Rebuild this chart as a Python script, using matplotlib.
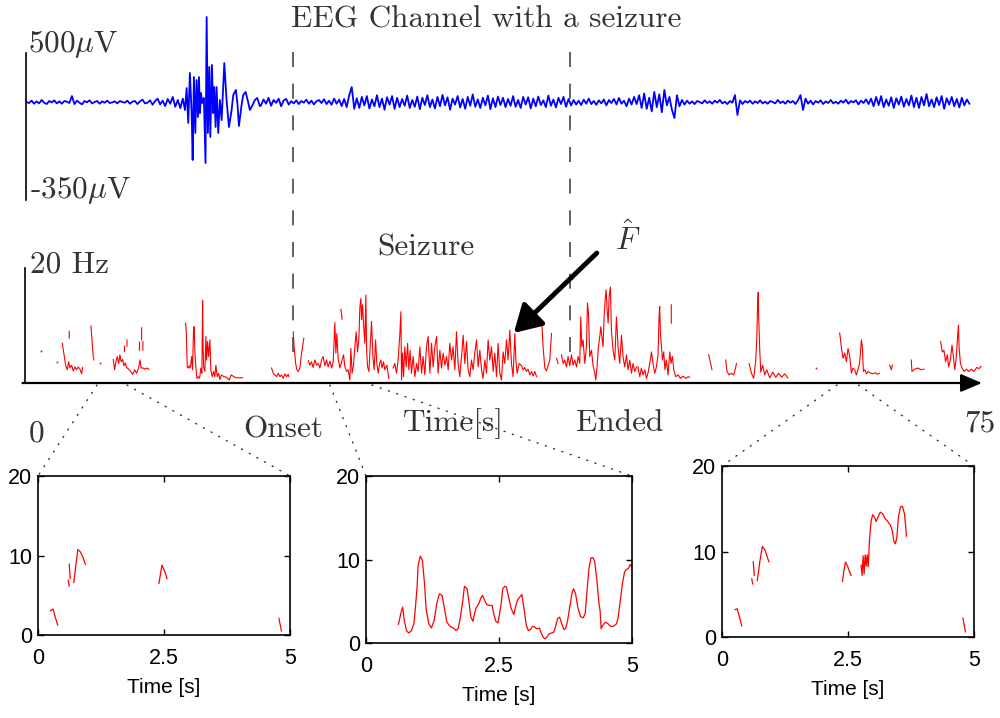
import numpy as np
import matplotlib
matplotlib.use("Agg")
import matplotlib.pyplot as plt
import matplotlib.transforms as mtrans
from matplotlib.patches import ConnectionPatch

nan = np.nan
plt.rcParams['mathtext.fontset'] = 'cm'
plt.rcParams['lines.scale_dashes'] = False

# ---------------- data ----------------
# EEG channel (uV); quiet part before the burst, sampled every 0.2 s from 0.2 s
eeg_pre_uv = [0, -6, 8, -10, 4, -8, 12, -4, -12, 6, -2, 10, -8, 4, -10, 6, 2, -6, 35, -12,
              8, -4, -14, 6, -2, 10, -8, 0, 6, -10, 4, -4, 8, -6, -2, 4, -8, 6, 0, -4,
              8, -10, 2, 6, -12, 4, 14, -8, -4, 10, -16, 6, 20, -14, 8, -24, 18, -10, 30, -28,
              12, -36, 20]
# burst (irregular times)
eeg_burst_t = [12.77, 12.90, 13.03, 13.16, 13.30, 13.38, 13.48, 13.59, 13.69, 13.80, 13.88, 13.96,
               14.04, 14.14, 14.27, 14.40, 14.49, 14.59, 14.70, 14.78, 14.91, 15.01, 15.09, 15.20,
               15.28, 15.41, 15.54, 15.68, 15.89, 16.07, 16.26, 16.47, 16.60, 16.81, 16.94, 17.05,
               17.26, 17.39, 17.58, 17.74, 17.92, 18.13, 18.32, 18.50, 18.71]
eeg_burst_uv = [-47, 82, -123, 171, -65, -341, 147, -182, 129, -88, 147, -65,
                53, -6, 24, -359, 500, -182, 206, -206, 218, -65, 88, -147,
                88, -182, 12, -106, 229, 12, -147, -47, 41, 71, -18, -141,
                -18, 41, 59, 12, -47, -18, 12, 24, -24]
# after the burst, sampled every 0.2 s from 18.8 s
eeg_post_uv = (
    [-20, 15, -10, 25, -22, 12, -5, 20, -25, 10, 18, -15, 5] +
    [-8, 10, -12, 6, -4, 14, -10, 8, -14, 4, 12, -6, 16, -12, 8, -16, 20, -10, 14] +
    [-24, 18, -30, 40, 88, -40, 22, -35, 30, -20, 35, -38, 15, -25, 40, -30, 20, -45, 28, -15,
     35, -40, 25, -30, 18, -22, 38, -35, 12, -28, 32, -42, 25, -18, 40, -30, 15, -38, 30, -25,
     42, -20, 28, -45, 20, -15, 35, -32, 18, -40, 30, -22, 45, -28, 15, -35, 25, -20, 38, -42,
     22, -30, 32, -18] +
    [25, -30, 18, -22, 35, -28, 12, -35, 30, -15, 28, -38, 20, -25, 32, -18, 10, -30, 38, -22,
     15, -32, 25, -12, 30, -28, 18, -20, 12, -15, 8, -18, 14, -10, 20, -12, 6, -16, 10, -8,
     15, -20, 12, -6, 18, -14, 24, -10, 8, -25, 20, -15, 30, -12, 40] +
    [-35, 50, -40, 25, -55, 60, -30, 45, -60, 71, -20, 30, -45, -94, 40, -25] +
    [12, -15, 8, -10, 4, -12, 6, 0, -8, 10, -6, 4, -10, 8, -4, 12, -8, 2, -12, 6, -4] +
    [41, -76] +
    [10, -12, 6, -4, 8, -10, 4, -6, 10, -8, 2, -10, 6, 0, -8, 12, -6, 4, -10, 8, -4, 6, -12, 10] +
    [41, -47, 20] +
    [-10, 8, -14, 6, -4, 10, -12, 4, -6, 12, -8, 2, -10, 8, -4, 14, -10, 6, -2, 10, -14, 8, -6, 16, -12] +
    [20, -25, 30, -18, 35, -30, 15, -22, 28, -35, 22, -15, 32, -28, 18, -20, 38, -30, 25, -35,
     30, -20, 47, -25, 15, -30, 28, -18, 35, -40, 22, -15, 30, -25, 18, -32, 25, -20, 15, -10])

# instantaneous frequency estimate F-hat (Hz), segments
red_segments = [
    ([3.04, 3.16, 3.31, 3.43, 3.54, 3.65, 3.78, 3.91, 4.04, 4.18, 4.30, 4.44, 4.57, 4.65],
     [6.9, 5.2, 3.0, 2.3, 3.7, 2.6, 3.1, 2.1, 2.8, 2.3, 2.8, 2.4, 1.6, 2.7]),
    ([3.59, 3.59], [9.0, 7.8]),
    ([5.31, 5.49, 5.55], [9.9, 4.6, 4.0]),
    ([7.08, 7.19, 7.29, 7.40, 7.51, 7.61, 7.71, 7.82, 7.93, 8.03, 8.14, 8.30, 8.46, 8.62, 8.78,
      8.93, 9.09, 9.20, 9.30, 9.46, 9.62, 9.77, 9.91],
     [4.1, 2.3, 3.7, 4.6, 3.4, 4.9, 3.7, 4.1, 3.0, 3.5, 2.7, 2.4, 2.0, 1.5, 2.3,
      1.7, 2.6, 4.0, 2.6, 2.6, 2.4, 2.6, 2.4]),
    ([7.97, 7.97], [6.4, 5.5]),
    ([8.17, 8.17], [7.5, 6.4]),
    ([9.16, 9.16], [7.1, 5.7]),
    ([9.33, 9.33], [9.6, 7.5]),
    ([9.43, 9.43], [7.2, 5.7]),
    ([12.82, 12.87, 12.95, 13.03, 13.10, 13.16, 13.22, 13.30, 13.37, 13.45, 13.50, 13.56, 13.64,
      13.72, 13.82, 13.93, 14.03, 14.11, 14.17, 14.19, 14.21, 14.25, 14.35, 14.43, 14.48, 14.56,
      14.64, 14.75, 14.82, 14.93, 15.04, 15.14, 15.22, 15.33, 15.44, 15.54, 15.67, 15.86, 16.07,
      16.28, 16.43, 16.59, 16.81, 17.02, 17.34],
     [10.4, 8.9, 2.8, 2.6, 3.0, 2.6, 3.1, 4.6, 2.3, 9.2, 9.8, 5.2, 2.6,
      0.8, 1.1, 0.8, 2.6, 1.7, 14.4, 9.5, 6.3, 2.8, 2.0, 8.1, 4.0, 7.2,
      4.6, 7.5, 2.3, 1.1, 2.0, 1.1, 3.1, 1.1, 1.7, 0.6, 1.4, 1.1, 1.0,
      0.5, 1.4, 1.2, 0.9, 0.9, 0.9]),
    ([19.64, 19.77, 19.90, 20.04, 20.17, 20.30, 20.43, 20.56, 20.70, 20.83, 20.96, 21.01],
     [2.6, 1.7, 1.4, 1.1, 1.7, 1.1, 1.4, 0.8, 1.6, 1.1, 1.5, 1.1]),
    ([21.36, 21.43, 21.55, 21.65, 21.75, 21.89, 22.02, 22.20],
     [8.9, 6.3, 3.4, 2.3, 2.0, 2.6, 5.2, 7.8]),
    ([22.55, 22.68, 22.81, 22.94, 23.08, 23.21, 23.34, 23.47, 23.61, 23.73, 23.87, 24.00, 24.13,
      24.27, 24.40, 24.53, 24.66, 24.74, 24.82, 24.92, 25.06, 25.24, 25.35, 25.46, 25.59, 25.72,
      25.85, 25.93, 26.03, 26.14, 26.25, 26.35, 26.46, 26.57, 26.64, 26.72, 26.78, 26.86, 26.94,
      27.04, 27.12, 27.18, 27.26, 27.36, 27.46, 27.57, 27.68, 27.78, 27.89, 27.99, 28.10, 28.21,
      28.31, 28.41, 28.52, 28.63, 28.79, 28.94],
     [3.9, 3.1, 3.7, 2.7, 4.0, 3.1, 3.4, 2.6, 4.0, 4.6, 3.0, 4.0, 2.8,
      3.8, 2.6, 3.7, 10.5, 5.2, 8.6, 4.3, 2.6, 4.0, 4.9, 2.8, 2.0, 2.3,
      0.5, 6.0, 1.7, 3.1, 6.3, 8.9, 5.4, 7.8, 13.0, 14.7, 11.0, 13.6, 10.1,
      6.9, 15.3, 5.7, 2.8, 2.0, 6.3, 10.7, 4.6, 2.3, 7.5, 3.4, 1.7, 3.4,
      4.0, 2.6, 3.7, 2.3, 3.1, 0.8]),
    ([25.14, 25.24], [12.8, 11.1]),
    ([29.28, 29.42, 29.55, 29.68, 29.82, 29.90, 29.95, 30.03, 30.11, 30.21, 30.32, 30.43, 30.53,
      30.63, 30.74, 30.87, 31.01, 31.14, 31.27, 31.40, 31.54, 31.66, 31.80, 31.93, 32.06, 32.20,
      32.33, 32.46, 32.59, 32.73, 32.85, 32.99, 33.12, 33.25, 33.39, 33.52, 33.65, 33.78, 33.92,
      34.04, 34.18, 34.31, 34.44, 34.57, 34.71, 34.84, 34.97, 35.11, 35.23, 35.37, 35.50, 35.63,
      35.76, 35.90, 36.03, 36.16, 36.30, 36.42, 36.56, 36.69, 36.82, 36.95, 37.09, 37.22, 37.35,
      37.49, 37.61, 37.75, 37.88, 38.01, 38.14, 38.28, 38.40, 38.54, 38.67, 38.80, 38.94, 39.02,
      39.12, 39.28, 39.47, 39.59, 39.73, 39.86, 39.99, 40.13, 40.26, 40.39, 40.52, 40.66],
     [2.6, 3.4, 1.7, 4.0, 8.6, 12.4, 0.5, 5.2, 1.1, 6.3, 2.8, 6.9, 2.3,
      5.7, 1.7, 4.6, 1.1, 3.4, 2.0, 6.3, 1.7, 4.6, 1.4, 6.3, 8.1, 1.7,
      6.9, 2.8, 6.3, 8.1, 1.7, 5.7, 2.6, 5.2, 3.1, 4.6, 2.3, 6.9, 4.0,
      6.3, 2.3, 8.9, 3.4, 1.1, 4.6, 8.3, 3.4, 7.2, 2.3, 1.1, 4.0, 2.3,
      5.2, 7.5, 2.8, 5.7, 2.3, 0.8, 4.0, 1.7, 7.5, 4.0, 6.3, 2.0, 5.2,
      1.1, 6.9, 1.7, 0.5, 5.4, 3.4, 7.5, 4.0, 9.2, 3.4, 1.1, 8.6, 4.0,
      1.7, 3.4, 3.0, 2.3, 2.7, 2.0, 2.4, 1.4, 2.0, 1.2, 2.0, 1.1]),
    ([41.10, 41.18, 41.32, 41.45, 41.58, 41.71, 41.85], [9.8, 6.3, 2.6, 2.1, 3.1, 4.0, 8.6]),
    ([42.24, 42.37], [4.3, 3.4]),
    ([42.64, 42.77, 42.90, 43.04, 43.16, 43.30, 43.43, 43.56, 43.69, 43.83, 43.96, 44.09, 44.17,
      44.25, 44.35, 44.49, 44.62, 44.70, 44.78, 44.88, 45.02, 45.14, 45.28, 45.36, 45.46, 45.57,
      45.68, 45.76, 45.84, 45.94, 46.02, 46.10, 46.18, 46.26, 46.34, 46.42, 46.52, 46.60, 46.73,
      46.87, 47.00, 47.13, 47.26, 47.40, 47.52, 47.66, 47.80, 47.92, 48.06, 48.19, 48.32, 48.45,
      48.59],
     [4.9, 3.4, 4.0, 2.8, 4.6, 3.0, 4.9, 3.1, 4.0, 2.8, 4.6, 3.4, 11.5,
      6.3, 7.5, 3.4, 6.3, 13.9, 12.1, 4.6, 5.7, 3.1, 1.7, 0.5, 2.8, 6.3,
      8.1, 9.8, 8.1, 6.3, 11.5, 14.4, 16.2, 12.7, 10.4, 15.0, 16.7, 9.2, 5.7,
      4.0, 11.5, 6.3, 3.4, 8.3, 4.6, 2.8, 4.9, 2.3, 4.0, 1.7, 3.4, 2.0,
      2.8]),
    ([48.71, 48.85, 48.98, 49.11, 49.25, 49.38, 49.51, 49.64, 49.78, 49.90, 50.04, 50.17, 50.30,
      50.38, 50.43, 50.49, 50.57, 50.65, 50.75, 50.85, 50.96, 51.09, 51.23, 51.33, 51.44, 51.55,
      51.70, 51.89, 52.08, 52.28, 52.50, 52.68, 52.81],
     [2.8, 1.1, 2.6, 1.4, 2.3, 0.8, 1.8, 3.4, 5.4, 3.4, 1.7, 2.8, 4.9,
      11.5, 13.3, 8.6, 6.3, 4.0, 5.4, 2.3, 4.0, 1.4, 5.4, 3.4, 4.6, 2.3,
      1.1, 1.4, 0.8, 1.2, 0.8, 1.1, 1.0]),
    ([51.35, 51.35], [13.6, 10.4]),
    ([54.32, 54.58], [4.9, 2.3]),
    ([55.67, 55.77, 55.93, 56.12, 56.30, 56.46, 56.52], [4.0, 2.0, 1.4, 1.7, 1.4, 2.7, 3.4]),
    ([57.52, 57.71, 57.89, 58.05, 58.13, 58.17, 58.21, 58.25, 58.29, 58.37, 58.45, 58.60, 58.76,
      58.92, 59.16, 59.40, 59.63, 59.87, 60.11, 60.35, 60.59],
     [3.4, 1.7, 0.8, 4.0, 7.5, 11.0, 14.4, 15.8, 11.0, 5.7, 1.9, 3.1, 1.4,
      2.3, 0.9, 1.9, 1.0, 1.7, 1.0, 1.6, 0.9]),
    ([64.71, 64.84, 64.97, 65.11, 65.24, 65.37, 65.51, 65.64, 65.76, 65.90, 66.03, 66.16, 66.29,
      66.43, 66.51, 66.59, 66.70, 66.84, 66.96, 67.17, 67.35, 67.54, 67.70, 67.86],
     [8.7, 6.3, 4.3, 5.2, 3.7, 6.0, 4.6, 1.7, 2.6, 2.3, 1.4, 2.3, 3.4,
      7.5, 6.3, 2.0, 2.3, 1.6, 2.0, 1.7, 1.6, 1.8, 1.5, 1.7]),
    ([68.67, 68.81, 68.89], [3.1, 2.3, 3.1]),
    ([70.39, 70.44, 70.65, 70.92, 71.18, 71.39], [4.0, 2.0, 2.4, 2.6, 2.3, 2.4]),
    ([72.72, 72.85, 72.98, 73.11, 73.25, 73.35, 73.49, 73.62, 73.73, 73.84, 73.94, 74.05, 74.13,
      74.18, 74.29, 74.42, 74.58, 74.77, 74.94, 75.15, 75.36, 75.58, 75.76, 75.92],
     [7.2, 5.4, 5.7, 3.7, 4.9, 2.8, 4.0, 6.6, 4.6, 2.3, 4.0, 7.5, 10.1,
      6.3, 3.4, 2.6, 2.0, 2.4, 2.0, 2.4, 2.0, 2.7, 2.5, 2.9]),
]
red_dot_t = [1.35, 2.60, 6.03, 62.86]
red_dot_f = [5.6, 3.7, 3.4, 2.6]

seizure_onset_s = 21.33
seizure_end_s = 43.3

# zoomed windows (frequency, Hz, over 5 s)
sub1_t = [0.245, 0.30, 0.34, 0.39, nan, 0.60, 0.62, nan, 0.62, 0.64, nan,
          0.71, 0.74, 0.79, 0.84, 0.89, 0.94, nan,
          2.40, 2.43, 2.46, 2.50, 2.53, 2.56, nan, 4.78, 4.83]
sub1_f = [3.05, 3.26, 2.3, 1.26, nan, 6.9, 6.15, nan, 8.9, 7.1, nan,
          6.6, 8.2, 10.75, 10.46, 9.8, 8.9, nan,
          6.5, 7.7, 8.8, 8.2, 7.7, 7.1, nan, 2.1, 0.5]

sub2_t = [0.61, 0.66, 0.69, 0.72, 0.76, 0.80, 0.85, 0.90, 0.93, 0.96, 0.98, 1.02, 1.06, 1.10,
          1.13, 1.18, 1.23, 1.28, 1.33, 1.38, 1.43, 1.47, 1.52, 1.58, 1.64, 1.69, 1.73, 1.77,
          1.82, 1.85, 1.90, 1.94, 1.97, 2.01, 2.04, 2.07, 2.12, 2.16, 2.19, 2.23, 2.27, 2.32,
          2.37, 2.40, 2.44, 2.48, 2.51, 2.54, 2.57, 2.61, 2.64, 2.68, 2.73, 2.78, 2.81, 2.85,
          2.89, 2.93, 2.95, 2.98, 3.01, 3.05, 3.09, 3.13, 3.17, 3.21, 3.26, 3.30, 3.33, 3.36,
          3.40, 3.44, 3.49, 3.53, 3.56, 3.60, 3.64, 3.68, 3.72, 3.75, 3.79, 3.83, 3.87, 3.90,
          3.94, 3.98, 4.03, 4.08, 4.12, 4.15, 4.19, 4.23, 4.27, 4.30, 4.34, 4.38, 4.40, 4.42,
          4.45, 4.50, 4.55, 4.60, 4.65, 4.71, 4.74, 4.78, 4.82, 4.86, 4.89, 4.93, 4.97, 5.00]
sub2_f = [2.24, 3.7, 4.3, 2.7, 1.5, 1.2, 1.44, 2.3, 4.3, 6.7, 9.3, 10.4, 9.9, 7.1,
          4.1, 2.3, 1.8, 2.7, 4.7, 5.9, 5.7, 4.3, 2.5, 2.0, 1.8, 1.5, 1.7, 2.9,
          5.1, 6.8, 6.5, 4.7, 3.1, 2.6, 3.5, 4.2, 4.7, 5.4, 5.7, 5.1, 4.6, 4.5,
          4.5, 3.5, 2.6, 2.4, 3.5, 4.7, 6.5, 6.8, 6.7, 5.5, 4.1, 3.4, 4.3, 5.2,
          5.5, 5.8, 4.9, 3.7, 2.2, 1.5, 1.6, 2.0, 1.9, 1.7, 1.8, 1.1, 0.7, 0.5,
          0.7, 1.1, 1.2, 1.3, 1.9, 2.9, 3.1, 2.3, 1.6, 1.7, 2.7, 4.3, 5.9, 6.5,
          5.9, 4.3, 3.2, 3.0, 3.5, 5.9, 8.9, 10.2, 10.2, 9.7, 7.5, 4.7, 3.9, 1.7,
          2.1, 2.5, 2.3, 2.0, 2.0, 2.3, 3.1, 5.1, 7.1, 8.5, 8.8, 8.9, 9.4, 9.1]

sub3_t = [0.26, 0.30, 0.35, 0.39, nan, 0.59, 0.61, nan, 0.62, 0.64, nan,
          0.70, 0.75, 0.80, 0.85, 0.93, nan,
          2.39, 2.42, 2.45, 2.49, 2.52, 2.56, nan,
          2.76, 2.78, 2.80, 2.82, 2.84, 2.86, 2.88, 2.90, 2.93, 2.96, 2.99, 3.03, 3.06, 3.10,
          3.14, 3.19, 3.23, 3.29, 3.34, 3.38, 3.41, 3.44, 3.47, 3.50, 3.54, 3.58, 3.62, 3.64,
          3.66, nan, 4.78, 4.83]
sub3_f = [3.2, 3.3, 2.3, 1.3, nan, 6.8, 6.2, nan, 8.8, 7.2, nan,
          6.6, 8.8, 10.6, 10.2, 8.8, nan,
          6.5, 7.8, 8.75, 8.3, 7.8, 7.2, nan,
          8.4, 7.2, 9.5, 7.4, 9.6, 8.3, 9.6, 8.2, 11.7, 13.6, 14.3, 14.0, 13.5, 14.1,
          14.6, 14.4, 13.9, 13.5, 13.1, 12.4, 11.2, 10.9, 11.7, 14.0, 15.2, 15.3, 14.4, 13.2,
          11.8, nan, 2.2, 0.6]

# where each zoom window is taken on the long time axis (s)
zoom_windows = [(5.79, 8.17), (24.27, 27.6), (64.5, 66.2)]

sub_ticks_x = [0, 2.5, 5]
sub_ticks_y = [0, 10, 20]

# ---------------- figure ----------------
W, H = 1000, 718
fig = plt.figure(figsize=(W / 100, H / 100), dpi=100)


def fax(x0, y0, x1, y1):
    return fig.add_axes([x0 / W, 1 - y1 / H, (x1 - x0) / W, (y1 - y0) / H])


TXT = '#333333'
CM = 'cmr10'
FS = 22.5

# top EEG panel
ax_top = fax(24, 0, 982, 210)
ax_top.patch.set_visible(False)
eeg_t = np.concatenate([0.2 + 0.2 * np.arange(len(eeg_pre_uv)), eeg_burst_t,
                        18.8 + 0.2 * np.arange(len(eeg_post_uv))])
eeg_v = np.concatenate([eeg_pre_uv, eeg_burst_uv, eeg_post_uv])
ax_top.plot(eeg_t, eeg_v, color='#0000ff', lw=1.3, clip_on=False)
ax_top.set_xlim(0, 76)
ax_top.set_ylim(-635, 600)
for s in ['top', 'right', 'bottom']:
    ax_top.spines[s].set_visible(False)
ax_top.spines['left'].set_position(('data', 0.16))
ax_top.spines['left'].set_bounds(-576, 288)
ax_top.spines['left'].set_linewidth(1.2)
ax_top.set_xticks([])
ax_top.set_yticks([])

# middle frequency panel
ax_mid = fax(24, 200, 982, 400)
ax_mid.patch.set_visible(False)
rt, rf = [], []
for ts, fs in red_segments:
    rt += list(ts) + [nan]
    rf += list(fs) + [nan]
ax_mid.plot(rt, rf, color='#ff0000', lw=0.8, clip_on=False)
ax_mid.plot(red_dot_t, red_dot_f, 's', color='#ff0000', ms=1.2, mew=0, clip_on=False)
ax_mid.set_xlim(0, 76)
ax_mid.set_ylim(-(400 - 383) / 5.75, (383 - 200) / 5.75)
for s in ['top', 'right', 'bottom']:
    ax_mid.spines[s].set_visible(False)
ax_mid.spines['left'].set_position(('data', 0.08))
ax_mid.spines['left'].set_bounds(0, 20)
ax_mid.spines['left'].set_linewidth(1.2)
ax_mid.set_xticks([])
ax_mid.set_yticks([])
ax_mid.annotate('', xy=(76, 0), xytext=(-0.12, 0), xycoords='data',
                arrowprops=dict(arrowstyle='-|>,head_length=1.3,head_width=0.55',
                                color='k', lw=1.6, mutation_scale=10,
                                shrinkA=0, shrinkB=0),
                annotation_clip=False)
# pointer to F-hat
ax_mid.annotate('', xy=(38.86, 8.7), xytext=(45.44, 22.6), xycoords='data',
                arrowprops=dict(arrowstyle='-|>,head_length=0.65,head_width=0.38',
                                color='k', lw=3.5, mutation_scale=25,
                                shrinkA=0, shrinkB=0),
                annotation_clip=False)

# seizure onset / end dashed lines
btr = mtrans.blended_transform_factory(ax_top.transData, fig.transFigure)
for ts in [seizure_onset_s, seizure_end_s]:
    ax_top.plot([ts, ts], [1 - 52 / H, 1 - 352 / H], transform=btr, color='#555555',
                lw=1.3, dashes=(10.8, 12.0), clip_on=False)

# zoom subplots
sub_boxes = [(38, 476, 290, 635), (366, 476, 632, 643), (722, 466, 974, 637)]
sub_data = [(sub1_t, sub1_f), (sub2_t, sub2_f), (sub3_t, sub3_f)]
SANS = 'Liberation Sans'
subs = []
for box, (st, sf) in zip(sub_boxes, sub_data):
    ax = fax(*box)
    ax.plot(st, sf, color='#ff0000', lw=0.9)
    ax.set_xlim(0, 5)
    ax.set_ylim(0, 20)
    ax.set_xticks(sub_ticks_x)
    ax.set_xticklabels(['0', '2.5', '5'])
    ax.set_yticks(sub_ticks_y)
    ax.tick_params(direction='in', length=4, width=1, top=True, right=True,
                   labelsize=15.5, colors='k')
    ax.tick_params(axis='x', pad=9)
    ax.tick_params(axis='y', pad=4)
    for lab in ax.get_xticklabels() + ax.get_yticklabels():
        lab.set_family(SANS)
    for s in ax.spines.values():
        s.set_linewidth(1.2)
    ax.set_xlabel('Time [s]', family=SANS, fontsize=15, labelpad=7)
    subs.append(ax)

for (ta, tb), ax in zip(zoom_windows, subs):
    for tx, corner in [(ta, (0, 20)), (tb, (5, 20))]:
        cp = ConnectionPatch(xyA=(tx, -0.35), coordsA=ax_mid.transData,
                             xyB=corner, coordsB=ax.transData,
                             color='#333333', lw=1.0, linestyle=(0, (0.8, 5.5)))
        fig.add_artist(cp)

# texts (Computer Modern)
def ftxt(x, y, s, **kw):
    fig.text(x / W, 1 - y / H, s, family=CM, fontsize=FS, color=TXT, va='baseline', **kw)

ftxt(486, 27, 'EEG Channel with a seizure', ha='center')
ftxt(28, 52, r'500$\mu$V', ha='left')
ftxt(30, 198, r'-350$\mu$V', ha='left')
ftxt(30, 272, '20 Hz', ha='left')
ftxt(426, 256, 'Seizure', ha='center')
ftxt(628, 250, r'$\hat{F}$', ha='center')
ftxt(37, 442, '0', ha='center')
ftxt(283, 437, 'Onset', ha='center')
ftxt(453, 431, 'Time[s]', ha='center')
ftxt(620, 431, 'Ended', ha='center')
ftxt(980, 431, '75', ha='center')

fig.savefig('out.png', dpi=100)
